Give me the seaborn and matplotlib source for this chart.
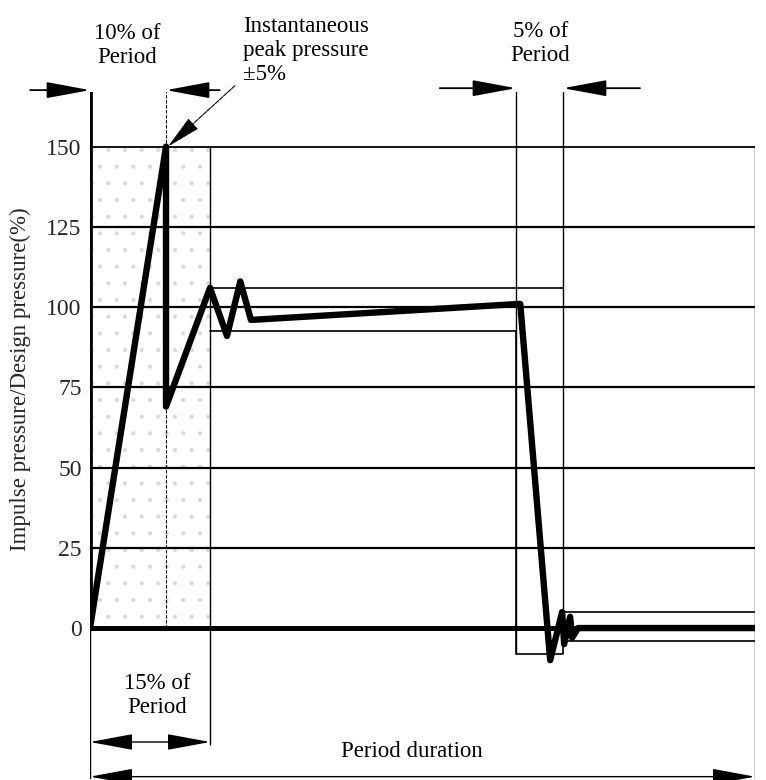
import matplotlib
matplotlib.use("Agg")
import matplotlib.pyplot as plt
import seaborn as sns
import pandas as pd
import numpy as np

# ---- data (percent of period, percent of design pressure) ----
time_pct = [0.0, 11.43, 11.43, 18.05, 20.6, 22.6, 24.2, 64.7, 69.2, 71.0, 71.3, 72.2, 72.5, 73.4, 100.0]
pressure_pct = [0, 150, 69, 106, 91, 108, 96, 101, -10, 5, -5, 3.5, -3, 0, 0]

y_ticks = [0, 25, 50, 75, 100, 125, 150]
y_tick_labels = ["0", "25", "50", "75", "100", "125", "150"]

peak_time = 11.43          # 10 % of period mark
rise_window = 18.05        # 15 % of period mark
fall_start = 64.06         # start of 5 % window
fall_end = 71.13           # end of 5 % window
upper_tol = 106
lower_tol = 92.5
tail_upper = 5
tail_lower = -4
fall_lower = -8
peak_value = 150

df = pd.DataFrame({"t": time_pct, "p": pressure_pct})

sns.set_theme(style="white")
plt.rcParams["font.family"] = ["Liberation Serif", "DejaVu Serif"]
plt.rcParams["hatch.linewidth"] = 0.6

fig = plt.figure(figsize=(7.66, 7.80), dpi=100)
ax = fig.add_axes([90 / 766, 0.0014, 665 / 766, 0.8806])
ax.set_xlim(0, 100)
ax.set_ylim(-47, 167)
for s in ax.spines.values():
    s.set_visible(False)
ax.set_facecolor("white")

# stippled rise region
ax.fill_between([0, rise_window], 0, peak_value, facecolor="white",
                edgecolor="#d9d9d9", hatch=".", linewidth=0, zorder=0)

# horizontal grid lines
ax.hlines([25, 50, 75, 100, 125], 0, 100, color="black", lw=1.6, zorder=2)
ax.hlines(peak_value, 0, 100, color="black", lw=1.3, zorder=2)

# vertical construction lines
ax.vlines(0, 0, 169, color="black", lw=3.4, zorder=3)
ax.vlines(0, -47, 0, color="black", lw=1.0, zorder=3)
ax.vlines(peak_time, 0, 169, color="black", lw=0.8, linestyle=(0, (3, 1.5)), zorder=2)
ax.vlines(rise_window, -36.4, peak_value, color="black", lw=1.0, zorder=2)
ax.vlines(fall_start, fall_lower, 169.5, color="black", lw=1.0, zorder=2)
ax.vlines(fall_end, tail_lower, 169.5, color="black", lw=1.0, zorder=2)
ax.vlines(100, -47, peak_value, color="black", lw=1.0, zorder=2)

# tolerance band
ax.plot([rise_window, fall_end], [upper_tol, upper_tol], color="black", lw=1.2, zorder=2)
ax.plot([fall_end, 100], [tail_upper, tail_upper], color="black", lw=1.2, zorder=2)
ax.plot([rise_window, fall_start, fall_start, fall_end, fall_end, 100],
        [lower_tol, lower_tol, fall_lower, fall_lower, tail_lower, tail_lower],
        color="black", lw=1.2, zorder=2)

# baseline
ax.hlines(0, 0, 100, color="black", lw=3.6, zorder=3)

# pressure curve
sns.lineplot(data=df, x="t", y="p", sort=False, estimator=None, color="black",
             lw=4.6, ax=ax, zorder=4)
ax.set_xlabel("")
ax.set_xticks([])
ax.set_yticks(y_ticks)
ax.set_yticklabels(y_tick_labels, fontsize=17)
ax.tick_params(axis="y", length=0, pad=6)
ax.set_ylabel("Impulse pressure/Design pressure(%)", fontsize=16.5)
ax.yaxis.set_label_coords(-0.089, 0.582)

head = dict(arrowstyle="-|>,head_length=2.7,head_width=0.5", mutation_scale=10,
            color="black", lw=1.3, shrinkA=0, shrinkB=0)
dhead = dict(arrowstyle="<|-|>,head_length=2.7,head_width=0.5", mutation_scale=10,
             color="black", lw=1.0, shrinkA=0, shrinkB=0)


def arrow(x0, y0, x1, y1, props):
    ax.annotate("", xy=(x1, y1), xytext=(x0, y0), arrowprops=props,
                annotation_clip=False)


# 10 % of period dimension
arrow(-9.0, 167.6, 0, 167.6, head)
arrow(19.5, 167.6, peak_time, 167.6, head)
# 5 % of period dimension
arrow(52.6, 168.2, fall_start, 168.2, head)
arrow(82.7, 168.2, fall_end, 168.2, head)
# 15 % of period dimension
arrow(0, -35.5, rise_window, -35.5, dhead)
# period duration
arrow(0, -46.3, 100, -46.3, dhead)
# leader to peak
ax.annotate("", xy=(peak_time + 0.3, peak_value), xytext=(21.8, 169),
            arrowprops=dict(arrowstyle="-|>,head_length=2.2,head_width=0.45",
                            mutation_scale=10, color="black", lw=0.8,
                            linestyle=(0, (4, 1)), shrinkA=0, shrinkB=0),
            annotation_clip=False)

tkw = dict(fontsize=16.5, color="black", linespacing=1.2, clip_on=False)
ax.text(5.56, 181.5, "10% of\nPeriod", ha="center", va="center", **tkw)
ax.text(23.0, 180.0, "Instantaneous\npeak pressure\n\u00b15%", ha="left", va="center", **tkw)
ax.text(67.7, 182.0, "5% of\nPeriod", ha="center", va="center", **tkw)
ax.text(10.1, -21.0, "15% of\nPeriod", ha="center", va="center", **tkw)
ax.text(48.4, -38.6, "Period duration", ha="center", va="center", **tkw)

fig.savefig("out.png", dpi=100, facecolor="white")
